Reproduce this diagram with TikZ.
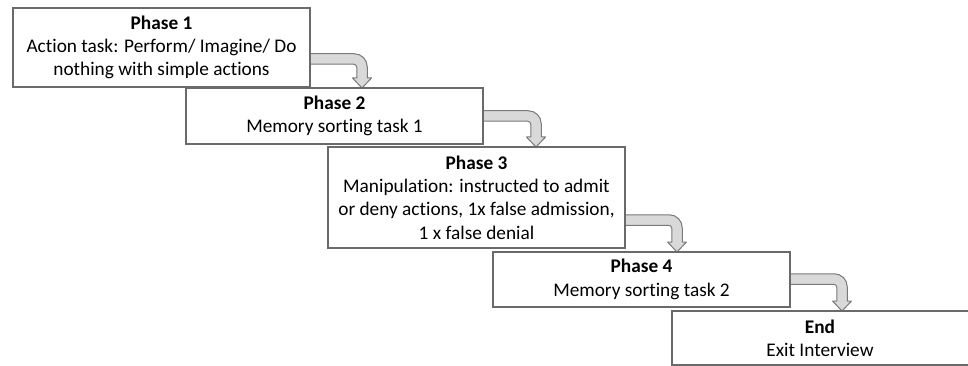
\documentclass[tikz,border=0pt]{standalone}
\usepackage{fontspec}
\setmainfont{Carlito}[Ligatures=NoCommon]
\usetikzlibrary{calc,backgrounds}

\definecolor{boxline}{HTML}{6A6A6A}
\definecolor{arrowfill}{HTML}{D9D9D9}
\definecolor{arrowline}{HTML}{7A7A7A}

\tikzset{
  phase/.style={rectangle, draw=boxline, line width=1.1pt, fill=white,
    anchor=north west, inner sep=0pt, outer sep=0pt,
    minimum width=297pt, align=center,
    font=\fontsize{19.3pt}{23.3pt}\selectfont},
  bentarrow/.style={fill=arrowfill, draw=arrowline, line width=1pt, line join=round},
}

% Bent block arrow: shaft leaves #1 to the right, turns down, tip at #2
\newcommand\bentconnector[2]{%
  \path[bentarrow] let \p1=(#1), \p2=(#2) in
    (\x1,\y1+5.25pt)
    -- (\x2-7.75pt,\y1+5.25pt)
    .. controls (\x2-0.57pt,\y1+5.25pt) and (\x2+5.25pt,\y1-0.57pt) .. (\x2+5.25pt,\y1-7.75pt)
    -- (\x2+5.25pt,\y2+10pt)
    -- (\x2+9.5pt,\y2+10pt)
    -- (\x2,\y2)
    -- (\x2-9.5pt,\y2+10pt)
    -- (\x2-5.25pt,\y2+10pt)
    -- (\x2-5.25pt,\y1-8.25pt)
    .. controls (\x2-5.25pt,\y1-6.59pt) and (\x2-6.59pt,\y1-5.25pt) .. (\x2-8.25pt,\y1-5.25pt)
    -- (\x1,\y1-5.25pt) -- cycle;}

\begin{document}
\begin{tikzpicture}[x=1pt,y=-1pt]
\useasboundingbox (0,0) rectangle (968,366);

\node[phase, minimum height=79pt] (b1) at (13,8)
  {\textbf{Phase 1}\\Action task: Perform/ Imagine/ Do\\nothing with simple actions};
\node[phase, minimum height=56pt] (b2) at (186,88)
  {\textbf{Phase 2}\\Memory sorting task 1};
\node[phase, minimum height=101pt] (b3) at (328,147)
  {\textbf{Phase 3}\\Manipulation: instructed to admit\\or deny actions, 1x false admission,\\1 x false denial};
\node[phase, minimum height=55pt] (b4) at (493,252)
  {\textbf{Phase 4}\\Memory sorting task 2};
\node[phase, draw=none, minimum width=296pt, minimum height=54pt] (b5) at (672,311)
  {\textbf{End}\\Exit Interview};
% the last box runs past the right edge
\draw[boxline, line width=1.1pt]
  ($(b5.north east)+(8,0)$) -- (b5.north west) -- (b5.south west) -- ($(b5.south east)+(8,0)$);

% connector anchor points
\coordinate (s1) at ($(b1.south east)+(0,-28)$);
\coordinate (t1) at ($(b1.east |- b2.north)+(52,0)$);
\coordinate (s2) at ($(b2.south east)+(0,-28)$);
\coordinate (t2) at ($(b2.east |- b3.north)+(53,0)$);
\coordinate (s3) at ($(b3.south east)+(0,-28)$);
\coordinate (t3) at ($(b3.east |- b4.north)+(52,0)$);
\coordinate (s4) at ($(b4.south east)+(0,-28)$);
\coordinate (t4) at ($(b4.east |- b5.north)+(52,0)$);

\begin{scope}[on background layer]
  \bentconnector{s1}{t1}
  \bentconnector{s2}{t2}
  \bentconnector{s3}{t3}
  \bentconnector{s4}{t4}
\end{scope}
\end{tikzpicture}
\end{document}
